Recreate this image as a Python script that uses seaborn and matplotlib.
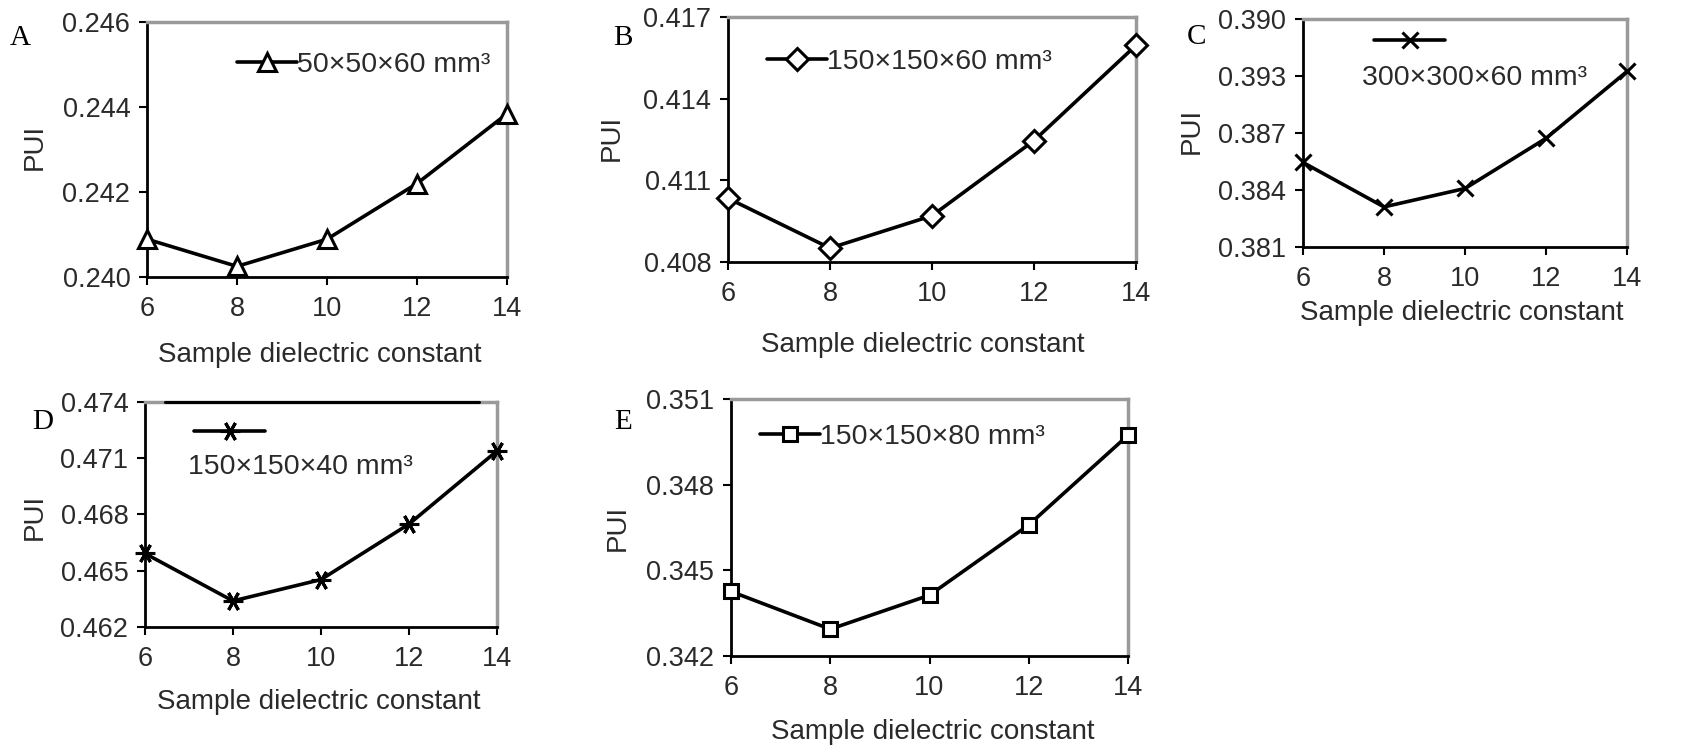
import matplotlib
matplotlib.use("Agg")
import matplotlib.pyplot as plt
import seaborn as sns
import numpy as np
import pandas as pd

sns.set_theme(style="white")
plt.rcParams['font.family'] = ['Liberation Sans', 'DejaVu Sans']

# ---------------- data ----------------
dielectric = [6, 8, 10, 12, 14]

pui_A = [0.24089, 0.24025, 0.24089, 0.24220, 0.24384]
pui_B = [0.41034, 0.40851, 0.40970, 0.41246, 0.41596]
pui_C = [0.38545, 0.38311, 0.38408, 0.38672, 0.39024]
pui_D = [0.46592, 0.46339, 0.46453, 0.46749, 0.47139]
pui_E = [0.34426, 0.34294, 0.34413, 0.34659, 0.34973]

labels = ["50×50×60 mm³", "150×150×60 mm³", "300×300×60 mm³",
          "150×150×40 mm³", "150×150×80 mm³"]
panel_letters = ["A", "B", "C", "D", "E"]

yticks_A = [0.240, 0.242, 0.244, 0.246]
yticks_B = [0.408, 0.411, 0.414, 0.417]
yticks_C = [0.381, 0.384, 0.387, 0.390, 0.393]
yticks_D = [0.462, 0.465, 0.468, 0.471, 0.474]
yticks_E = [0.342, 0.345, 0.348, 0.351]
ytick_labels_A = ["0.240", "0.242", "0.244", "0.246"]
ytick_labels_B = ["0.408", "0.411", "0.414", "0.417"]
ytick_labels_C = ["0.381", "0.384", "0.387", "0.393", "0.390"]
ytick_labels_D = ["0.462", "0.465", "0.468", "0.471", "0.474"]
ytick_labels_E = ["0.342", "0.345", "0.348", "0.351"]
xticks = [6, 8, 10, 12, 14]

series = [pui_A, pui_B, pui_C, pui_D, pui_E]
yticks_all = [yticks_A, yticks_B, yticks_C, yticks_D, yticks_E]
ylabels_all = [ytick_labels_A, ytick_labels_B, ytick_labels_C, ytick_labels_D, ytick_labels_E]

# ---------------- layout (pixels) ----------------
W, H = 1686, 753
boxes = [  # left, right, top, bottom
    (147, 507, 22, 277),
    (728, 1136, 17, 262),
    (1303, 1627, 19, 247),
    (145, 497, 402, 627),
    (731, 1128, 399, 656),
]
markers = ['^', 'D', 'x', (6, 2, 90), 's']
msizes = [13, 11, 12, 14, 10]
leg_pos = [(0.25, 0.83), (0.096, 0.816), (0.22, 0.895), (0.14, 0.858), (0.073, 0.852)]
stacked = [False, False, True, True, False]
stack_text = [None, None, (0.53, 0.74), (0.44, 0.71), None]
ylab_pos = [(-0.311, 0.51), (-0.284, 0.506), (-0.343, 0.51), (-0.3125, 0.49), (-0.285, 0.50)]
xlab_pos = [(0.48, -0.306), (0.478, -0.339), (0.49, -0.29), (0.494, -0.333), (0.507, -0.296)]
letter_pos = [(20, 38), (623, 38), (1196, 37), (43, 422), (623, 422)]

TXT = '#2a2a2a'
fig = plt.figure(figsize=(W / 100, H / 100), dpi=100)
fig.patch.set_facecolor('white')

for i in range(5):
    l, r, t, b = boxes[i]
    ax = fig.add_axes([l / W, 1 - b / H, (r - l) / W, (b - t) / H])
    ax.set_facecolor('white')
    df = pd.DataFrame({'x': dielectric, 'y': series[i]})
    sns.lineplot(data=df, x='x', y='y', ax=ax, color='black', lw=2.6,
                 marker=markers[i], markersize=msizes[i],
                 markerfacecolor='white', markeredgecolor='black',
                 markeredgewidth=2.2, clip_on=False, zorder=5,
                 label=labels[i], legend=False)
    ax.set_xlim(6, 14)
    ax.set_ylim(yticks_all[i][0], yticks_all[i][-1])
    ax.set_xticks(xticks)
    ax.set_xticklabels([str(v) for v in xticks])
    ax.set_yticks(yticks_all[i])
    ax.set_yticklabels(ylabels_all[i])
    ax.tick_params(axis='both', which='major', direction='out', length=6, width=1.5,
                   color='black', labelsize=19.5, labelcolor=TXT, left=True, bottom=True)
    ax.tick_params(axis='x', pad=8)
    ax.tick_params(axis='y', pad=6)
    for s in ['left', 'bottom']:
        ax.spines[s].set_color('black')
        ax.spines[s].set_linewidth(2.0)
    for s in ['top', 'right']:
        ax.spines[s].set_color('#9a9a9a')
        ax.spines[s].set_linewidth(2.5)
    ax.set_xlabel("Sample dielectric constant", fontsize=20, color=TXT)
    ax.set_ylabel("PUI", fontsize=20, color=TXT)
    ax.xaxis.set_label_coords(*xlab_pos[i])
    ax.xaxis.label.set_va('center')
    ax.yaxis.set_label_coords(*ylab_pos[i])
    ax.yaxis.label.set_va('center')

    line = ax.lines[0]
    if not stacked[i]:
        ax.legend(handles=[line], labels=[labels[i]], loc='center left',
                  bbox_to_anchor=leg_pos[i], frameon=False, fontsize=20.5,
                  handlelength=2.1, handletextpad=0.0, borderpad=0,
                  borderaxespad=0, numpoints=1, labelcolor=TXT)
    else:
        ax.legend(handles=[line], labels=[''], loc='center left',
                  bbox_to_anchor=leg_pos[i], frameon=False, fontsize=20.5,
                  handlelength=2.5, handletextpad=0.0, borderpad=0,
                  borderaxespad=0, numpoints=1)
        ax.text(*stack_text[i], labels[i], transform=ax.transAxes,
                ha='center', va='center', fontsize=20.5, color=TXT)
    if i == 3:
        ax.axhline(yticks_all[i][-1], xmin=0.057, xmax=0.95, color='black',
                   lw=2.2, clip_on=False, zorder=6)

    lx, ly = letter_pos[i]
    fig.text(lx / W, 1 - ly / H, panel_letters[i], ha='center', va='center',
             fontsize=21, family='Liberation Serif', color='black')

fig.savefig('out.png', dpi=100, facecolor='white')
